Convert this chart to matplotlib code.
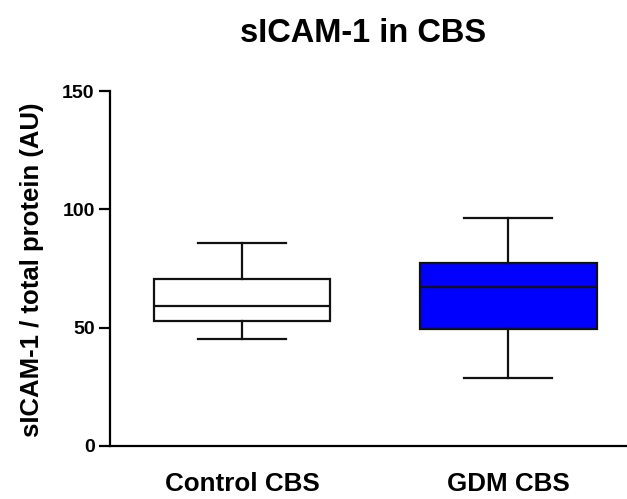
import matplotlib
matplotlib.use("Agg")
from matplotlib import pyplot as plt

# box statistics (AU)
groups = ["Control CBS", "GDM CBS"]
whisker_low = [45.1, 28.9]
q1 = [52.7, 49.6]
median = [59.0, 67.3]
q3 = [70.7, 77.3]
whisker_high = [85.7, 96.2]
box_colors = ["white", "#0000ff"]

plt.rcParams['font.family'] = ['Liberation Sans', 'DejaVu Sans']
plt.rcParams['font.weight'] = 'bold'

fig = plt.figure(figsize=(6.27, 4.99), dpi=100)
ax = fig.add_axes([110 / 627, 53 / 499, 1 - 110 / 627, 355 / 499])

stats = []
for i, name in enumerate(groups):
    stats.append({
        'label': name,
        'whislo': whisker_low[i],
        'q1': q1[i],
        'med': median[i],
        'q3': q3[i],
        'whishi': whisker_high[i],
        'fliers': [],
    })

lw = 1.6
bp = ax.bxp(stats, positions=[1, 2], widths=0.665, patch_artist=True,
            showfliers=False, capwidths=0.33,
            boxprops=dict(linewidth=lw, edgecolor='#111111'),
            medianprops=dict(color='#111111', linewidth=lw),
            whiskerprops=dict(color='#111111', linewidth=lw),
            capprops=dict(color='#111111', linewidth=lw))
for patch, c in zip(bp['boxes'], box_colors):
    patch.set_facecolor(c)

ax.set_xlim(0.504, 2.447)
ax.set_ylim(0, 150)
ax.set_yticks([0, 50, 100, 150])
ax.spines['top'].set_visible(False)
ax.spines['right'].set_visible(False)
ax.spines['left'].set_linewidth(1.6)
ax.spines['bottom'].set_linewidth(1.6)
ax.tick_params(axis='y', length=8, width=1.6, labelsize=14, pad=3)
ax.tick_params(axis='x', length=0, labelsize=18.7, pad=19)
for lab in ax.get_xticklabels() + ax.get_yticklabels():
    lab.set_fontweight('bold')

ax.set_ylabel('sICAM-1 / total protein (AU)', fontsize=18.5, fontweight='bold', va='center')
ax.yaxis.set_label_coords(-0.151, 0.496)
fig.text(363 / 627, (499 - 42) / 499, 'sICAM-1 in CBS', fontsize=23.5, fontweight='bold',
         ha='center', va='baseline')

fig.savefig('out.png', dpi=100)
